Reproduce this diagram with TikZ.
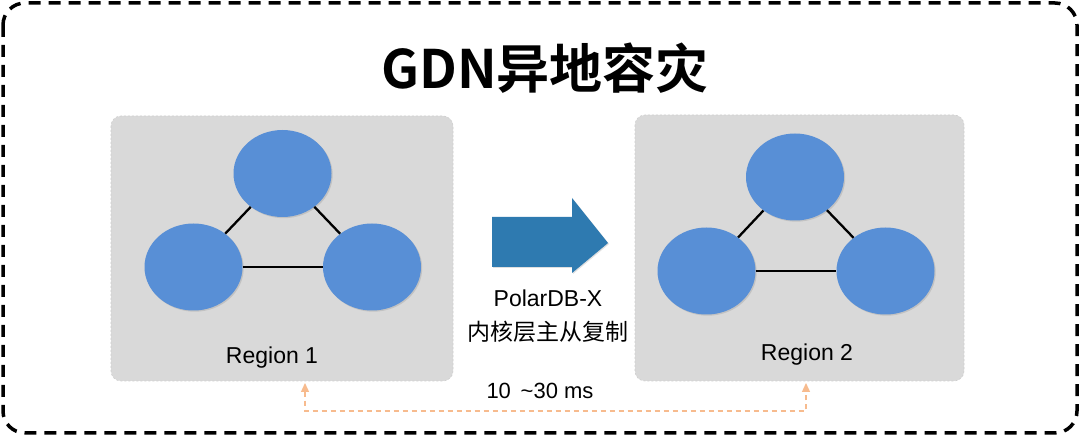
\documentclass[tikz,border=0pt]{standalone}
\usepackage{fontspec}
\setmainfont{Liberation Sans}
\newfontfamily\cjk{Noto Sans CJK SC}
\newfontfamily\cjkbold{Noto Sans CJK SC Bold}
\usetikzlibrary{shapes.geometric,arrows.meta,shadows}
\definecolor{nodeblue}{RGB}{88,143,214}
\definecolor{arrowblue}{RGB}{46,122,176}
\definecolor{boxgray}{RGB}{217,217,217}
\definecolor{boxedge}{RGB}{206,206,206}
\definecolor{latorange}{RGB}{247,187,142}
\tikzset{
  outerbox/.style={draw=black, line width=3.5pt, dash pattern=on 12pt off 8pt, rounded corners=22pt},
  regionbox/.style={draw=boxedge, fill=boxgray, line width=0.6pt, dash pattern=on 2pt off 2pt, rounded corners=10pt},
  dbnode/.style={ellipse, fill=nodeblue, inner sep=0pt, minimum width=98pt, minimum height=87pt,
     drop shadow={opacity=0.25, shadow xshift=1.2pt, shadow yshift=-1.2pt}},
  link/.style={draw=black, line width=2.3pt},
  lbl/.style={font=\fontsize{23}{27}\selectfont, inner sep=0pt},
  latency/.style={draw=latorange, line width=1.3pt, dash pattern=on 5pt off 4pt,
     {Triangle[width=8pt,length=9pt]}-{Triangle[width=8pt,length=9pt]}},
}
\begin{document}
\begin{tikzpicture}[x=1pt,y=-1pt]
\useasboundingbox (0,0) rectangle (1080,435);
\fill[white] (0,0) rectangle (1080,435);
% outer frame
\draw[outerbox] (3,3) rectangle (1077,433);
% title
\node[inner sep=0pt, font=\cjkbold\fontsize{53}{60}\selectfont] (title) at (545,68) {GDN异地容灾};
% region boxes
\draw[regionbox] (111,116) rectangle (453,381);
\draw[regionbox] (635,115) rectangle (964,381);
\coordinate (reg1s) at (305,383);
\coordinate (reg2s) at (806,383);
% region 1 nodes
\node[dbnode] (t1) at (282.5,173.5) {};
\node[dbnode] (l1) at (193.5,267) {};
\node[dbnode] (r1) at (372,267) {};
\draw[link] (t1) -- (l1);
\draw[link] (t1) -- (r1);
\draw[link] (l1) -- (r1);
\node[lbl] (lab1) at (272,358) {Region 1};
% region 2 nodes
\node[dbnode] (t2) at (795,177) {};
\node[dbnode] (l2) at (706.5,271) {};
\node[dbnode] (r2) at (885.5,271) {};
\draw[link] (t2) -- (l2);
\draw[link] (t2) -- (r2);
\draw[link] (l2) -- (r2);
\node[lbl] (lab2) at (807,355) {Region 2};
% replication arrow
\fill[arrowblue, drop shadow={opacity=0.25, shadow xshift=1pt, shadow yshift=-1pt}]
  (492,217) -- (572,217) -- (572,198) -- (608,243) -- (572,273) -- (572,267) -- (492,267) -- cycle;
\node[lbl] (poltxt) at (548,298) {PolarDB-X};
\node[lbl, font=\cjk\fontsize{23}{27}\selectfont] (reptxt) at (548,332) {内核层主从复制};
% latency connector
\draw[latency] (reg1s) -- (reg1s |- 0,411) -- (reg2s |- 0,411) -- (reg2s);
\node[inner sep=0pt, font=\fontsize{22}{26}\selectfont] (lat) at (540,391) {10\ \,\char`\~30 ms};
\end{tikzpicture}
\end{document}
